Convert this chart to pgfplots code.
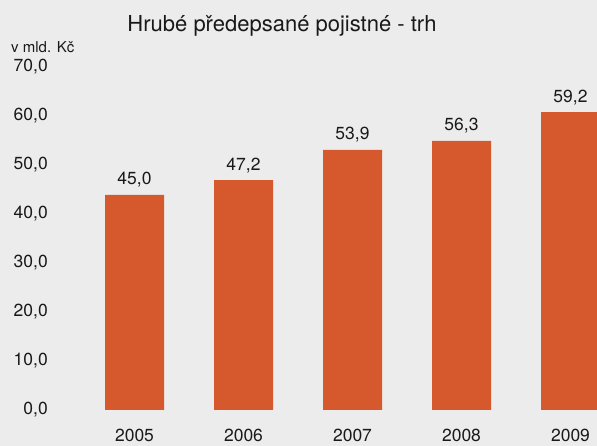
\documentclass[border=0pt]{standalone}
\usepackage{fontspec}
\setmainfont{TeX Gyre Heros}
\usepackage{pgfplots}
\usepackage{pgfplotstable}
\pgfplotsset{compat=1.18}
\definecolor{bg}{RGB}{235,236,235}
\definecolor{bar}{RGB}{213,89,45}
\definecolor{txt}{RGB}{25,25,25}
\pgfplotstableread{
x y lab
0 43.9 {45,0}
1 46.9 {47,2}
2 53.1 {53,9}
3 54.9 {56,3}
4 60.8 {59,2}
}\datatable
\begin{document}
\begin{tikzpicture}[x=1pt,y=1pt]
\useasboundingbox (0,0) rectangle (597,446);
\fill[bg] (0,0) rectangle (597,446);
\node[anchor=base, text=txt, font=\fontsize{22}{26}\selectfont, inner sep=0pt] at (282,414) {Hrubé předepsané pojistné - trh};
\node[anchor=base west, text=txt, font=\fontsize{15}{18}\selectfont, inner sep=0pt] at (11,393) {v mld. Kč};
\begin{axis}[
  at={(52pt,36pt)}, anchor=south west,
  scale only axis, width=545pt, height=343pt,
  xmin=-0.757, xmax=4.243, ymin=0, ymax=70,
  axis line style={draw=none},
  major tick length=0pt,
  ytick={0,10,...,70},
  xtick={0,1,2,3,4},
  xticklabels={2005,2006,2007,2008,2009},
  /pgf/number format/assume math mode=true,
  /pgf/number format/fixed,
  /pgf/number format/fixed zerofill,
  /pgf/number format/precision=1,
  /pgf/number format/use comma,
  yticklabel style={anchor=east, inner sep=0pt, xshift=-4pt, text=txt, font=\fontsize{17.5}{20}\selectfont},
  xticklabel style={anchor=base, inner sep=0pt, yshift=-32pt, text=txt, font=\fontsize{17.5}{20}\selectfont},
  clip=true,
]
\addplot[ybar, bar width=59pt, fill=bar, draw=none,
  nodes near coords, point meta=explicit symbolic,
  nodes near coords style={anchor=base, inner sep=0pt, yshift=10pt, text=txt, font=\fontsize{17.5}{20}\selectfont}]
  table[x=x, y=y, meta=lab] {\datatable};
\end{axis}
\end{tikzpicture}
\end{document}
